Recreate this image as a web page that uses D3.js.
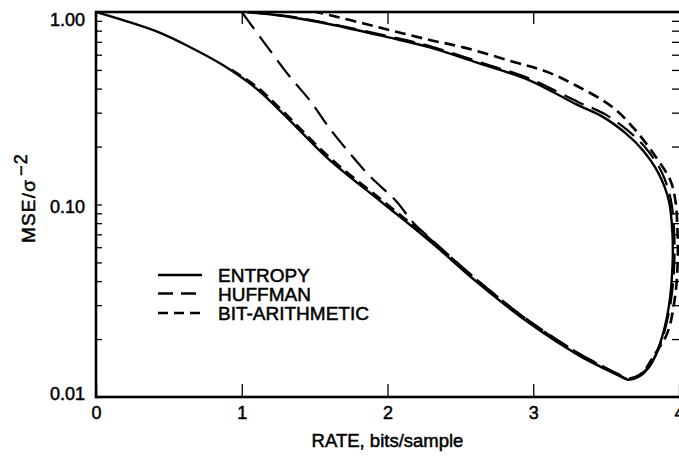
<!DOCTYPE html>
<html><head><meta charset="utf-8">
<script src="https://cdn.jsdelivr.net/npm/d3@7"></script>
<style>
html,body{margin:0;padding:0;background:#fff;}
text{font-family:"Liberation Sans",Arial,Helvetica,sans-serif;fill:#000;}
</style></head>
<body><svg id="c" width="679" height="457"></svg>
<script>
// ---- data ----
const rateTicks = [0, 1, 2, 3, 4];
const rateTickLabels = ["0", "1", "2", "3", "4"];
const mseMajor = [0.01, 0.1, 1];
const mseTickLabels = ["0.01", "0.10", "1.00"];
const mseMinor = [0.02,0.03,0.04,0.05,0.06,0.07,0.08,0.09,0.2,0.3,0.4,0.5,0.6,0.7,0.8,0.9];
const seriesNames = ["ENTROPY", "HUFFMAN", "BIT-ARITHMETIC"];

// [rate, mse] points
const entropy = [[0,1.0],[0.2,0.9],[0.42,0.79],[0.64,0.66],[0.87,0.53],[1.1,0.40],[1.3,0.288],[1.6,0.171],[1.95,0.1043],[2.29,0.0646],[2.63,0.0386],[2.97,0.0243],[3.31,0.0165],[3.45,0.0145],[3.58,0.0130],[3.65,0.0123],[3.72,0.0127],[3.8,0.0145],[3.87,0.019],[3.93,0.0294],[3.955,0.0475],[3.955,0.0709],[3.93,0.105],[3.86,0.145],[3.75,0.192],[3.635,0.234],[3.475,0.286],[3.3,0.33],[2.97,0.443],[2.63,0.541],[2.29,0.655],[2.0,0.74],[1.63,0.856],[1.3,0.95],[1.05,1.0]];
const huffman = [[1.0,1.0],[1.15,0.70],[1.33,0.461],[1.47,0.345],[1.6,0.25],[1.74,0.185],[1.88,0.14],[2.06,0.104],[2.18,0.080],[2.29,0.067],[2.63,0.0397],[2.97,0.0249],[3.31,0.0169],[3.45,0.0148],[3.58,0.0132],[3.65,0.0125],[3.73,0.0130],[3.81,0.015],[3.88,0.0195],[3.94,0.03],[3.967,0.0475],[3.967,0.071],[3.945,0.105],[3.88,0.148],[3.77,0.197],[3.65,0.242],[3.49,0.295],[3.31,0.34],[2.97,0.452],[2.63,0.55],[2.29,0.665],[2.0,0.75],[1.63,0.862],[1.3,0.955],[1.0,1.0]];
const bitArithmetic = [[0.93,0.50],[1.1,0.41],[1.3,0.296],[1.6,0.176],[1.95,0.107],[2.29,0.0662],[2.63,0.0395],[2.97,0.0248],[3.31,0.0168],[3.45,0.0147],[3.58,0.0131],[3.65,0.0124],[3.74,0.0132],[3.83,0.0165],[3.92,0.0215],[3.97,0.032],[3.99,0.0475],[3.99,0.071],[3.975,0.105],[3.94,0.134],[3.84,0.177],[3.70,0.244],[3.54,0.322],[3.31,0.409],[3.09,0.49],[2.86,0.552],[2.52,0.655],[2.29,0.716],[2.06,0.79],[1.83,0.874],[1.6,0.965],[1.51,1.0]];

// ---- drawing ----
const svg = d3.select("#c");
const L = 96, R = 679, T = 12, B = 397;
const x = d3.scaleLinear().domain([0, 4]).range([L, R]);
const y = d3.scaleLog().domain([0.01, 1]).range([B, T]);

svg.append("defs").append("clipPath").attr("id","pc")
  .append("rect").attr("x",L).attr("y",T-1).attr("width",R-L+2).attr("height",B-T+1);

const line = d3.line().x(d => x(d[0])).y(d => y(d[1])).curve(d3.curveCatmullRom.alpha(0.5));
const g = svg.append("g").attr("clip-path","url(#pc)");
const styles = [
  {dash:null, w:2.4},
  {dash:"21,9", w:2.2},
  {dash:"11,6", w:2.6}
];
[entropy, huffman, bitArithmetic].forEach((s,i) => {
  g.append("path").attr("d", line(s)).attr("fill","none").attr("stroke","#000")
   .attr("stroke-width", styles[i].w).attr("stroke-dasharray", styles[i].dash);
});

// axes
const fmtY = v => { const k = mseMajor.indexOf(v); return k >= 0 ? mseTickLabels[k] : ""; };
const yl = svg.append("g").attr("transform",`translate(${L},0)`)
  .call(d3.axisLeft(y).tickValues(mseMinor.concat(mseMajor)).tickSize(-6).tickPadding(11).tickFormat(fmtY));
const yr = svg.append("g").attr("transform",`translate(${R},0)`)
  .call(d3.axisRight(y).tickValues(mseMinor).tickSize(-7).tickFormat(""));
const xb = svg.append("g").attr("transform",`translate(0,${B})`)
  .call(d3.axisBottom(x).tickValues(rateTicks).tickSize(-13).tickPadding(9).tickFormat((d,i)=>rateTickLabels[i]));
const xt = svg.append("g").attr("transform",`translate(0,${T})`)
  .call(d3.axisTop(x).tickValues(rateTicks.slice(1,4)).tickSize(-12).tickFormat(""));
[yl,yr,xb,xt].forEach(a => {
  a.select(".domain").remove();
  a.selectAll(".tick line").attr("stroke","#000").attr("stroke-width",1.3);
  a.selectAll("text").attr("font-size",18).attr("font-family","Liberation Sans, Arial, sans-serif")
    .attr("fill","#000").attr("stroke","#000").attr("stroke-width",0.5);
});
// keep end labels inside the frame's height, as in the original
yl.selectAll(".tick text").attr("dy","0.36em")
  .attr("y", d => Math.max(T + 7, Math.min(B - 4, y(d))) - y(d) + (d === 0.1 ? 1.5 : 0));
// frame
svg.append("rect").attr("x",L).attr("y",T).attr("width",R-L+3).attr("height",B-T)
  .attr("fill","none").attr("stroke","#000").attr("stroke-width",2.6);

// axis titles
const heavy = s => s.attr("stroke","#000").attr("stroke-width",0.5);
svg.append("text").attr("x", x(2)).attr("y", 447).attr("text-anchor","middle")
  .attr("font-size",18.5).text("RATE, bits/sample").call(heavy);
const yt = svg.append("text").attr("transform","translate(35,198) rotate(-90)")
  .attr("text-anchor","middle").attr("font-size",19).attr("letter-spacing",1.2).call(heavy);
yt.append("tspan").text("MSE/σ");
yt.append("tspan").attr("dy",-8).attr("dx",3).attr("font-size",18).text("−2");

// legend
const legY = [275, 293.5, 313];
const legDash = [null, "15,8", "10,6"];
seriesNames.forEach((n,i) => {
  svg.append("line").attr("x1",158).attr("x2",202).attr("y1",legY[i]).attr("y2",legY[i])
    .attr("stroke","#000").attr("stroke-width",2.6).attr("stroke-dasharray",legDash[i]);
  svg.append("text").attr("x",218).attr("y",legY[i]+7).attr("font-size",19).text(n).call(heavy);
});
</script></body></html>
